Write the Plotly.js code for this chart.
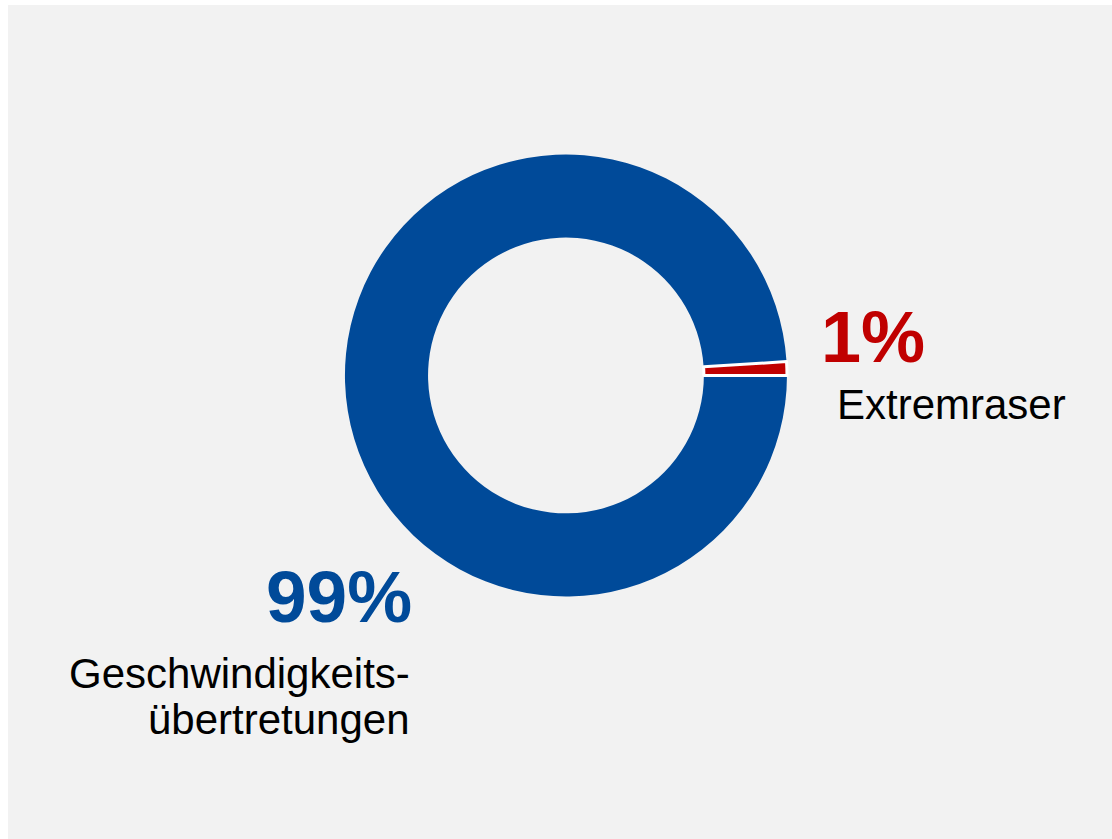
<!DOCTYPE html>
<html>
<head>
<meta charset="utf-8">
<script src="https://cdn.plot.ly/plotly-3.0.1.min.js"></script>
<style>
  html, body { margin: 0; padding: 0; background: #ffffff; }
  #chart { position: absolute; left: 8px; top: 5px; width: 1104px; height: 834px; }
</style>
</head>
<body>
<div id="chart"></div>
<script>
// Data
const categories = ["Geschwindigkeitsübertretungen", "Extremraser"];
const shares = [99, 1];
const shareLabels = ["99%", "1%"];
const nameLines = [["Geschwindigkeits-", "übertretungen"], ["Extremraser"]];

const sliceColors = ["#004a99", "#c00000"];
const FONT = "Liberation Sans, Arial, sans-serif";

const trace = {
  type: "pie",
  labels: categories,
  values: shares,
  hole: 0.624,
  sort: false,
  direction: "clockwise",
  rotation: 90,
  textinfo: "none",
  hoverinfo: "label+percent",
  marker: { colors: sliceColors, line: { color: ["#ffffff", "#ffffff"], width: [0, 3] } },
  domain: { x: [0.3052, 0.7056], y: [0.2908, 0.8208] },
  showlegend: false
};

const annotations = [
  { text: "<b>" + shareLabels[1] + "</b>", x: 0.7346, y: 0.6019, xanchor: "left", yanchor: "middle",
    font: { family: FONT, size: 72, color: sliceColors[1] } },
  { text: nameLines[1][0], x: 0.749, y: 0.5204, xanchor: "left", yanchor: "middle",
    font: { family: FONT, size: 42, color: "#000000" } },
  { text: "<b>" + shareLabels[0] + "</b>", x: 0.3675, y: 0.2905, xanchor: "right", yanchor: "middle",
    font: { family: FONT, size: 73, color: sliceColors[0] } },
  { text: nameLines[0][0], x: 0.3655, y: 0.199, xanchor: "right", yanchor: "middle",
    font: { family: FONT, size: 42, color: "#000000" } },
  { text: nameLines[0][1], x: 0.3655, y: 0.1427, xanchor: "right", yanchor: "middle",
    font: { family: FONT, size: 42, color: "#000000" } }
].map(a => Object.assign({ xref: "paper", yref: "paper", showarrow: false }, a));

const layout = {
  width: 1104,
  height: 834,
  margin: { l: 0, r: 0, t: 0, b: 0 },
  paper_bgcolor: "#f2f2f2",
  plot_bgcolor: "#f2f2f2",
  annotations: annotations
};

Plotly.newPlot("chart", [trace], layout, { displayModeBar: false });
</script>
</body>
</html>
